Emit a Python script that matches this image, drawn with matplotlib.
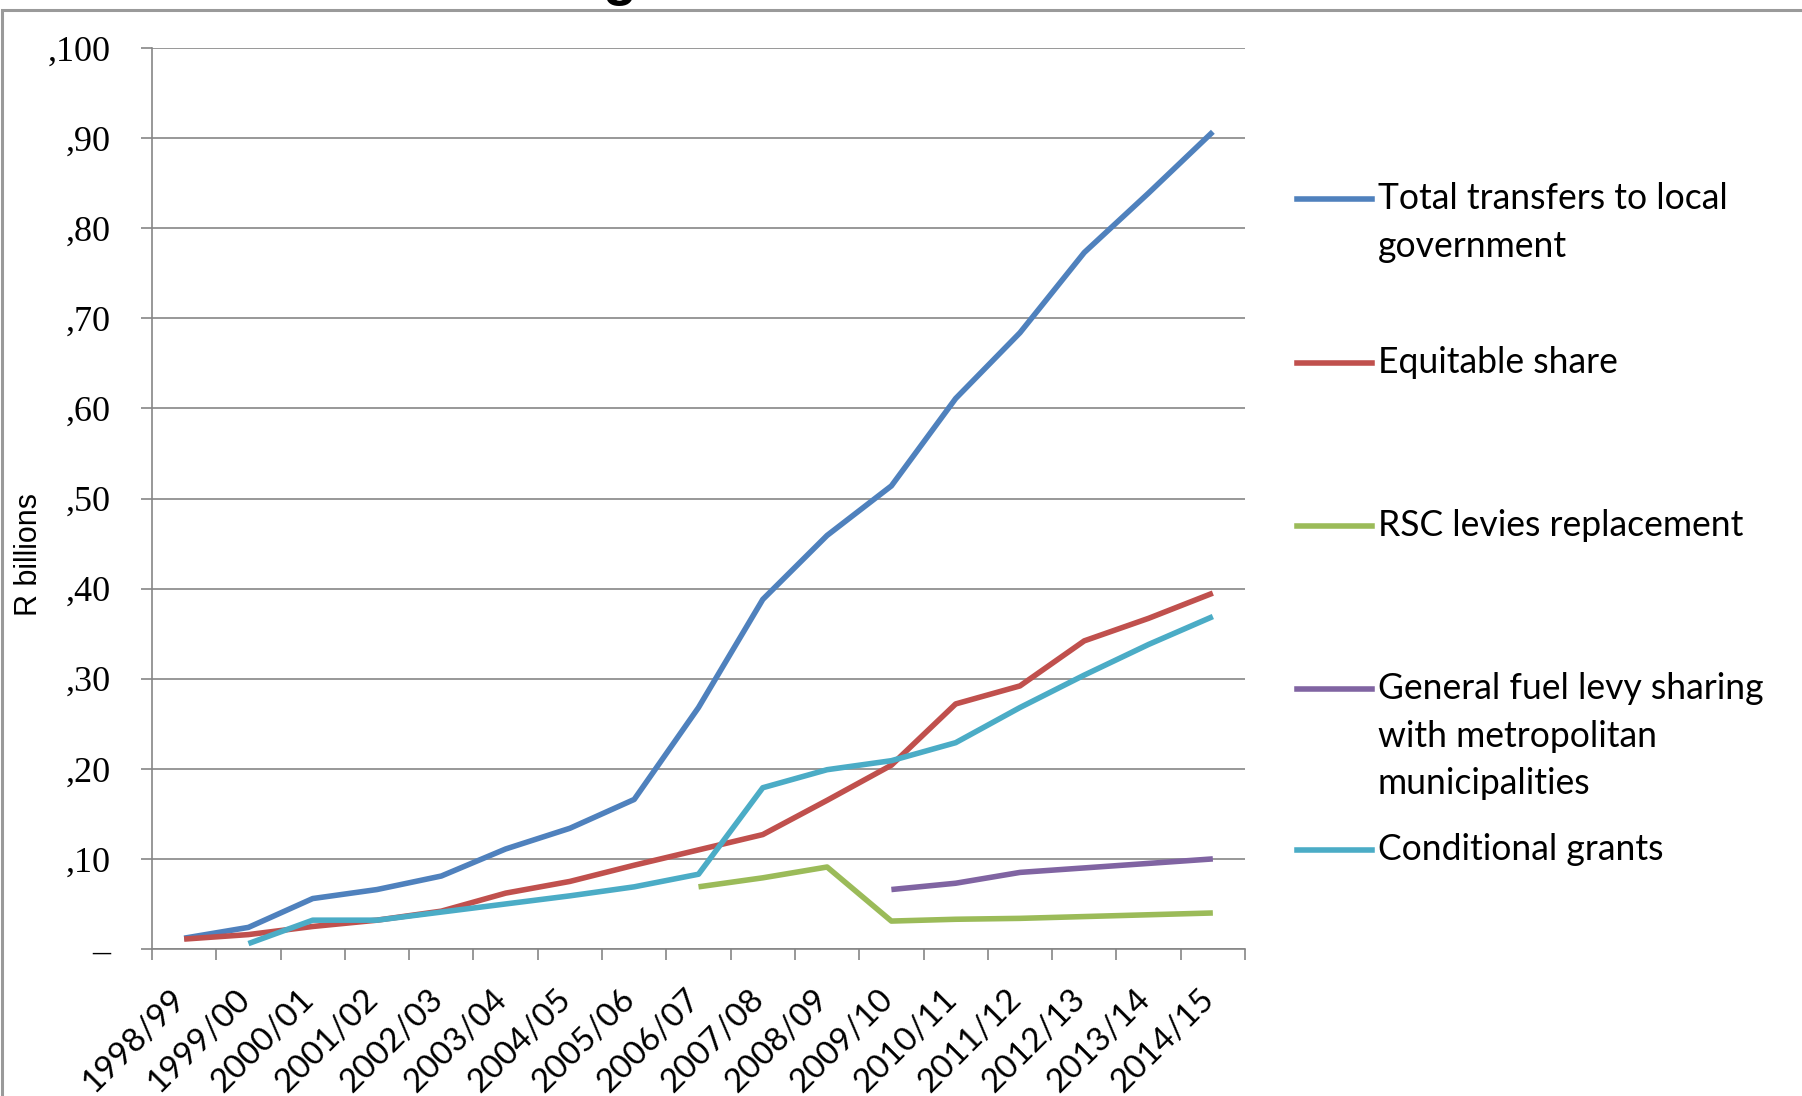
import matplotlib
matplotlib.use("Agg")
import matplotlib.pyplot as plt
from matplotlib.lines import Line2D
from matplotlib.patches import Rectangle
from matplotlib.transforms import ScaledTranslation
import numpy as np

W, H = 1802, 1096

years = ["1998/99", "1999/00", "2000/01", "2001/02", "2002/03", "2003/04",
         "2004/05", "2005/06", "2006/07", "2007/08", "2008/09", "2009/10",
         "2010/11", "2011/12", "2012/13", "2013/14", "2014/15"]

nan = np.nan
total_transfers = [1.2, 2.4, 5.6, 6.6, 8.1, 11.1, 13.4, 16.6, 26.8, 38.8,
                   45.9, 51.4, 61.1, 68.4, 77.3, 83.9, 90.7]
equitable_share = [1.1, 1.6, 2.5, 3.2, 4.2, 6.2, 7.5, 9.3, 11.0, 12.7,
                   16.5, 20.4, 27.2, 29.2, 34.2, 36.7, 39.5]
rsc_levies = [nan] * 8 + [6.9, 7.9, 9.1, 3.1, 3.3, 3.4, 3.6, 3.8, 4.0]
fuel_levy = [nan] * 11 + [6.6, 7.3, 8.5, 9.0, 9.5, 10.0]
conditional_grants = [nan, 0.6, 3.2, 3.2, 4.1, 5.0, 5.9, 6.9, 8.3, 17.9,
                      19.9, 20.9, 22.9, 26.8, 30.4, 33.8, 36.9]

series_labels = ["Total transfers to local\ngovernment",
                 "Equitable share",
                 "RSC levies replacement",
                 "General fuel levy sharing\nwith metropolitan\nmunicipalities",
                 "Conditional grants"]
series_colors = ["#4F81BD", "#C0504D", "#9BBB59", "#8064A2", "#4BACC6"]

y_ticks = list(range(0, 101, 10))
y_tick_labels = ["–"] + [f",{v}" for v in y_ticks[1:]]

grey = "#868686"

fig = plt.figure(figsize=(W / 100, H / 100), dpi=100)
ax = fig.add_axes([152 / W, 1 - 949 / H, 1093 / W, 901 / H])

x = np.arange(len(years))
all_series = [total_transfers, equitable_share, rsc_levies, fuel_levy, conditional_grants]
for vals, col in zip(all_series, series_colors):
    ax.plot(x, vals, color=col, lw=4.0, solid_joinstyle="round", solid_capstyle="butt")

ax.set_xlim(-0.5, len(years) - 0.5)
ax.set_ylim(0, 100)

ax.spines["top"].set_visible(False)
ax.spines["right"].set_visible(False)
for s in ["left", "bottom"]:
    ax.spines[s].set_color(grey)
    ax.spines[s].set_linewidth(1.2)

ax.yaxis.grid(True, color=grey, lw=1.2)
ax.set_axisbelow(True)

# category boundaries get the tick marks, centres get the labels
ax.set_xticks(np.arange(-0.5, len(years), 1))
ax.set_xticklabels([])
ax.set_xticks(x, minor=True)
ax.set_xticklabels(years, minor=True, rotation=45, ha="right", va="top",
                   rotation_mode="anchor", fontfamily="Lato", fontsize=24)
ax.tick_params(axis="x", which="major", direction="out", length=8, width=1.2, color=grey)
ax.tick_params(axis="x", which="minor", length=0, pad=25)
offset = ScaledTranslation(-14 / 100, 0, fig.dpi_scale_trans)
for lab in ax.get_xticklabels(minor=True):
    lab.set_transform(lab.get_transform() + offset)

ax.set_yticks(y_ticks)
ax.set_yticklabels(y_tick_labels, fontfamily="Liberation Serif", fontsize=26)
ax.tick_params(axis="y", direction="out", length=8, width=1.2, color=grey, pad=22)

fig.text(29 / W, 1 - 555 / H, "R billions", rotation=90, ha="center", va="center",
         fontfamily="Liberation Sans", fontsize=22)

# legend, laid out the way the spreadsheet spread it
key_y = [199, 363, 526, 689, 850]
line_gap = 47.5
for lab, col, ky in zip(series_labels, series_colors, key_y):
    yf = 1 - ky / H
    fig.add_artist(Line2D([1297 / W, 1372 / W], [yf, yf], transform=fig.transFigure,
                          color=col, lw=4.0))
    n_lines = lab.count("\n") + 1
    last_base = ky + 10 + (n_lines - 1) * line_gap
    fig.text(1378 / W, 1 - last_base / H, lab, ha="left", va="baseline",
             fontfamily="Lato", fontsize=25.6, linespacing=1.53)

# chart frame and the clipped heading above it
fig.add_artist(Rectangle((2 / W, -0.1), 1.2, 1.1 - 10 / H, transform=fig.transFigure,
                         fill=False, ec="#9a9a9a", lw=2.2))
fig.text(620 / W, 1 + 6 / H, "g", ha="center", va="baseline", fontsize=40,
         fontweight="bold", fontfamily="Liberation Sans")

fig.savefig("out.png", dpi=100)
plt.close(fig)
